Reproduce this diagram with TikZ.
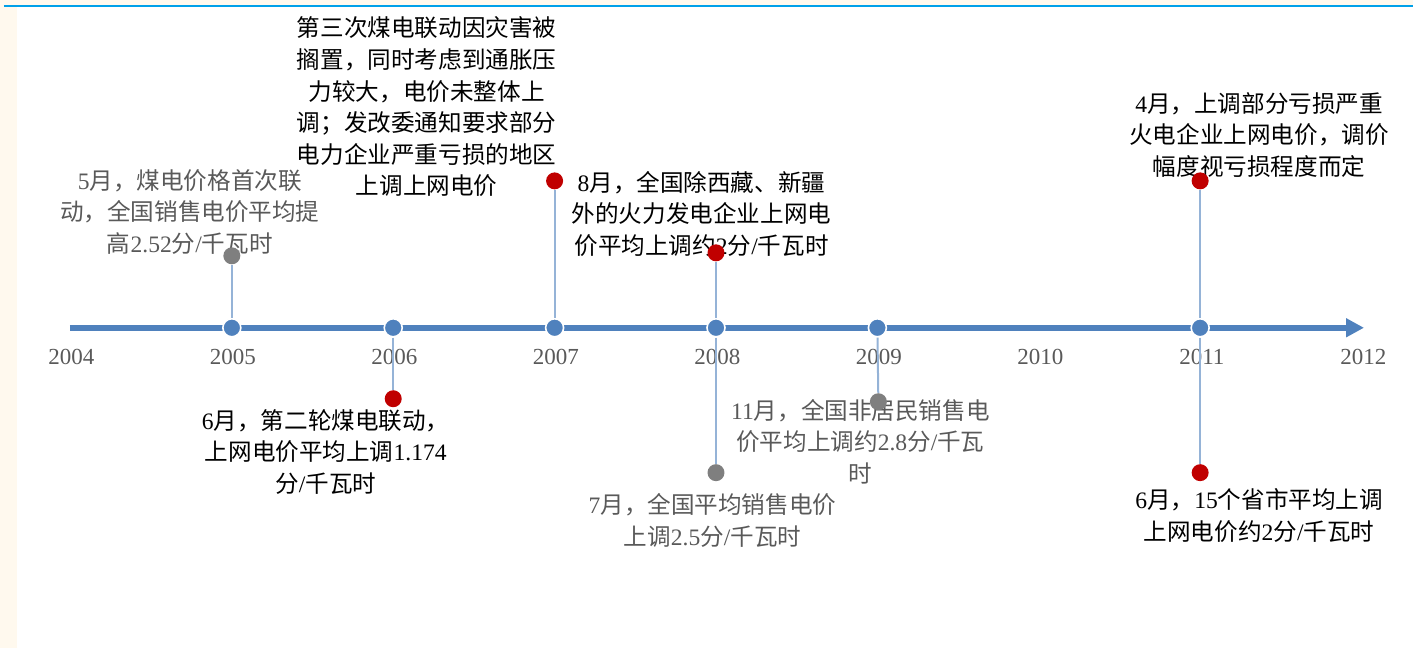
\documentclass[tikz,border=0pt]{standalone}
\usepackage{fontspec}
\setmainfont{Liberation Serif}
\newfontfamily\cjk{Noto Sans CJK SC}
\usepackage{tikz}
\usetikzlibrary{positioning, arrows.meta}
\definecolor{axisblue}{HTML}{4F81BD}
\definecolor{stemblue}{HTML}{95B3D7}
\definecolor{dotred}{HTML}{C00000}
\definecolor{dotgrey}{HTML}{7F7F7F}
\definecolor{textgrey}{HTML}{595959}
\definecolor{paper}{HTML}{FFF9EE}
\definecolor{rulecol}{HTML}{00A0E9}
\newcommand\lat[1]{{\rmfamily #1}}

\begin{document}
\begin{tikzpicture}[x=0.5pt, y=-0.5pt,
        note/.style = {align=center, font=\cjk\fontsize{11.8}{15.8}\selectfont},
        greynote/.style = {note, text=textgrey},
        year/.style = {font=\fontsize{11.5}{12}\selectfont, text=textgrey},
        axis/.style = {-{Triangle[length=9pt, width=9pt]}, line width=3pt, axisblue},
        axisdot/.style = {circle, fill=axisblue, draw=white, line width=0.8pt, minimum size=9pt, inner sep=0pt},
        reddot/.style = {circle, fill=dotred, minimum size=8.5pt, inner sep=0pt},
        greydot/.style = {circle, fill=dotgrey, minimum size=8.5pt, inner sep=0pt},
        stem/.style = {line width=1pt, stemblue},
    ]
        \fill[paper] (0,0) rectangle (1414,6);
        \fill[paper] (0,6) rectangle (17,648);
        \draw[rulecol, line width=1pt] (4,6.5) -- (1414,6.5);
        \useasboundingbox (0,0) rectangle (1414,648);

        \foreach \yr [count=\i from 0] in {2004,...,2012}
            \node[year] (l\yr) at ({71.5+161.6*\i},357) {\yr};

        \node[greynote] (n2005) at (190,212) {\lat{5}月，煤电价格首次联\\动，全国销售电价平均提\\高\lat{2.52}分\lat{/}千瓦时};
        \node[note] (n2006) at (326,452) {\lat{6}月，第二轮煤电联动，\\上网电价平均上调\lat{1.174}\\分\lat{/}千瓦时};
        \node[note] (n2007) at (427,107) {第三次煤电联动因灾害被\\搁置，同时考虑到通胀压\\力较大，电价未整体上\\调；发改委通知要求部分\\电力企业严重亏损的地区\\上调上网电价};
        \node[note] (n2008a) at (702,214) {\lat{8}月，全国除西藏、新疆\\外的火力发电企业上网电\\价平均上调约\lat{2}分\lat{/}千瓦时};
        \node[greynote] (n2008b) at (713,521) {\lat{7}月，全国平均销售电价\\上调\lat{2.5}分\lat{/}千瓦时};
        \node[greynote] (n2009) at (861,442) {\lat{11}月，全国非居民销售电\\价平均上调约\lat{2.8}分\lat{/}千瓦\\时};
        \node[note] (n2011a) at (1260,135) {\lat{4}月，上调部分亏损严重\\火电企业上网电价，调价\\幅度视亏损程度而定};
        \node[note] (n2011b) at (1260,516) {\lat{6}月，\lat{15}个省市平均上调\\上网电价约\lat{2}分\lat{/}千瓦时};

        \coordinate (a0) at (70,328);
        \coordinate (a1) at (1365,328);
        \draw[axis] (a0) -- (a1);
        \foreach \i/\yr in {1/2005, 2/2006, 3/2007, 4/2008, 5/2009, 7/2011}
            \node[axisdot] (d\yr) at ({70.5+161.5*\i},328) {};

        \node[greydot] (e2005) at (232,256) {};
        \node[reddot] (e2006) at (393.5,399) {};
        \node[reddot] (e2007) at (555,181) {};
        \node[reddot] (e2008a) at (716.5,253) {};
        \node[greydot] (e2008b) at (716.5,473) {};
        \node[greydot] (e2009) at (879,402) {};
        \node[reddot] (e2011a) at (1201,181) {};
        \node[reddot] (e2011b) at (1201,473) {};

        \draw[stem] (d2005) -- (e2005);
        \draw[stem] (d2006) -- (e2006);
        \draw[stem] (d2007) -- (e2007);
        \draw[stem] (d2008) -- (e2008a);
        \draw[stem] (d2008) -- (e2008b);
        \draw[stem] (d2009) -- (e2009);
        \draw[stem] (d2011) -- (e2011a);
        \draw[stem] (d2011) -- (e2011b);
    \end{tikzpicture}
\end{document}
